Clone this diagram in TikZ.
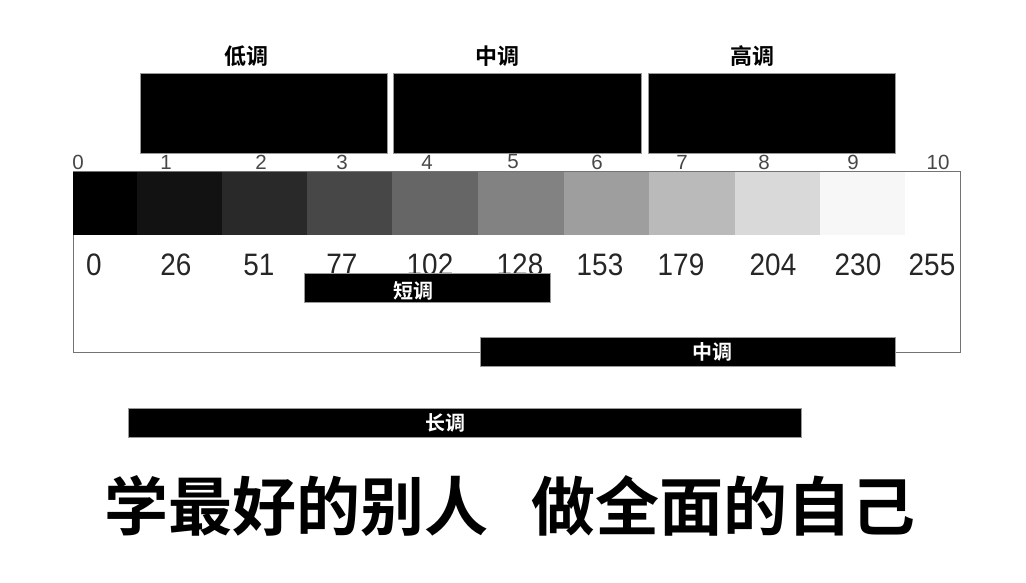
\documentclass[tikz,border=0pt]{standalone}
\usepackage{fontspec}
\setmainfont{Liberation Sans}
\newfontfamily\numfont[FakeStretch=0.9]{Liberation Sans}
\newfontfamily\cjk{Noto Sans CJK SC Bold}
\newfontfamily\cjkbig{Noto Sans CJK SC Bold}
\begin{document}
\begin{tikzpicture}[x=1pt,y=-1pt,
  tonebox/.style={fill=black,draw=black!40,line width=0.6pt},
  toplabel/.style={font=\cjk\fontsize{22}{24}\selectfont,text=black,inner sep=0pt},
  barlabel/.style={font=\cjk\fontsize{20}{22}\selectfont,text=white,inner sep=0pt},
  topnum/.style={font=\fontsize{20.5}{22}\selectfont,text=black!72,inner sep=0pt},
  valnum/.style={font=\numfont\fontsize{31}{33}\selectfont,text=black!85,inner sep=0pt}]
\useasboundingbox (0,0) rectangle (1026,582);
\fill[white] (0,0) rectangle (1026,582);

% top tone boxes
\draw[tonebox] (140,73) rectangle (387,153);
\draw[tonebox] (393,73) rectangle (641,153);
\draw[tonebox] (648,73) rectangle (895,153);
\node[toplabel] (low) at (246,56) {低调};
\node[toplabel] (mid) at (497,56) {中调};
\node[toplabel] (high) at (752,56) {高调};

% outline frame
\draw[black!55,line width=0.8pt] (73,171) rectangle (960,352);

% gray strip
\fill[black] (73,172) rectangle (137,235);
\fill[black!93] (137,172) rectangle (222,235);
\fill[black!84] (222,172) rectangle (307,235);
\fill[black!72] (307,172) rectangle (392,235);
\fill[black!60] (392,172) rectangle (478,235);
\fill[black!49] (478,172) rectangle (564,235);
\fill[black!38] (564,172) rectangle (649,235);
\fill[black!27] (649,172) rectangle (735,235);
\fill[black!15] (735,172) rectangle (820,235);
\fill[black!3] (820,172) rectangle (905,235);

% top numbers
\node[topnum] (n0) at (78,162) {0};
\node[topnum] (n1) at (166,162) {1};
\node[topnum] (n2) at (261,162) {2};
\node[topnum] (n3) at (342,162) {3};
\node[topnum] (n4) at (427,162) {4};
\node[topnum] (n5) at (513,162) {5};
\node[topnum] (n6) at (597,162) {6};
\node[topnum] (n7) at (682,162) {7};
\node[topnum] (n8) at (764,162) {8};
\node[topnum] (n9) at (853,162) {9};
\node[topnum] (n10) at (938,162) {10};

% values
\node[valnum] (v0) at (94,265) {0};
\node[valnum] (v26) at (176,265) {26};
\node[valnum] (v51) at (259,265) {51};
\node[valnum] (v77) at (342,265) {77};
\node[valnum] (v102) at (430,265) {102};
\node[valnum] (v128) at (520,265) {128};
\node[valnum] (v153) at (600,265) {153};
\node[valnum] (v179) at (681,265) {179};
\node[valnum] (v204) at (773,265) {204};
\node[valnum] (v230) at (858,265) {230};
\node[valnum] (v255) at (932,265) {255};

% range bars
\draw[tonebox] (304,273) rectangle (550,302);
\node[barlabel] (short) at (413,291) {短调};
\draw[tonebox] (480,337) rectangle (895,366);
\node[barlabel] (midr) at (712,352) {中调};
\draw[tonebox] (128,408) rectangle (801,437);
\node[barlabel] (long) at (445,423) {长调};

% slogan
\node[font=\cjkbig\fontsize{64}{68}\selectfont,inner sep=0pt] (slogan) at (510,506) {学最好的别人\hspace{44pt}做全面的自己};
\end{tikzpicture}
\end{document}
